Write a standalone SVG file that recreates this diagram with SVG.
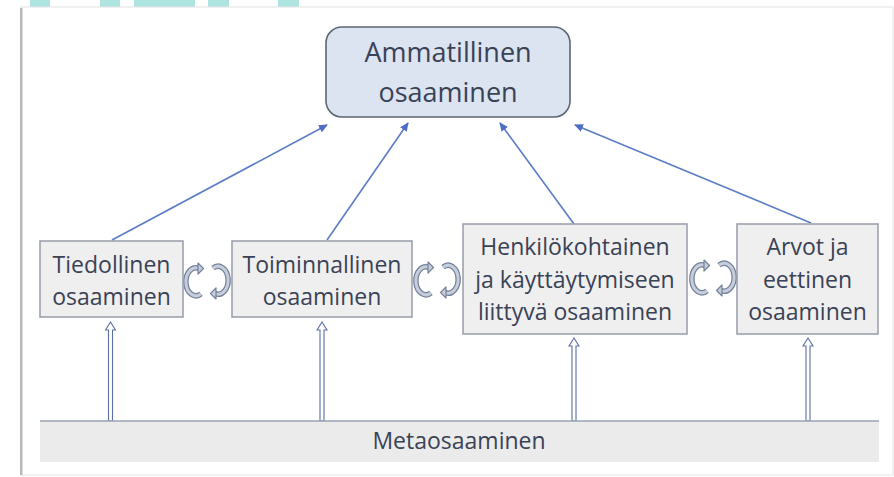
<svg xmlns="http://www.w3.org/2000/svg" width="894" height="477" viewBox="0 0 894 477">
<style>
.t{font-family:"Open Sans","Noto Sans","Liberation Sans",sans-serif;fill:#3a4256;text-anchor:middle}
.box{fill:#efefef;stroke:#969ca8;stroke-width:1.5}
.conn{stroke:#5b7cc6;stroke-width:1.6;fill:none}
.up{fill:#ffffff;stroke:#5c6fa6;stroke-width:1.1}
.cyc-o{fill:none;stroke:#75809a;stroke-width:5.5}
.cyc-i{fill:none;stroke:#c6cddb;stroke-width:3}
.cyc-h{fill:#c6cddb;stroke:#75809a;stroke-width:1.2;stroke-linejoin:round}
</style>
<defs>
<marker id="ah" markerWidth="9" markerHeight="8" refX="8" refY="4" orient="auto" markerUnits="userSpaceOnUse">
<path d="M0,0 L9,4 L0,8 Z" fill="#4d6ec4"/>
</marker>
<g id="cyc">
<path class="cyc-o" d="M -8 -12.5 A 10 14 0 1 0 -6 12.8"/>
<path class="cyc-i" d="M -8 -12.5 A 10 14 0 1 0 -6 12.8"/>
<path class="cyc-h" d="M -9 -18 L -3.5 -12.5 L -9 -7 Z"/>
<path class="cyc-o" d="M 8 12.5 A 10 14 0 1 0 6 -12.8"/>
<path class="cyc-i" d="M 8 12.5 A 10 14 0 1 0 6 -12.8"/>
<path class="cyc-h" d="M 9 18 L 3.5 12.5 L 9 7 Z"/>
</g>
</defs>
<rect width="894" height="477" fill="#ffffff"/>
<g id="deco">
<rect x="30" y="0" width="20" height="8" fill="#aee5e0"/>
<rect x="100" y="0" width="20" height="8" fill="#aee5e0"/>
<rect x="134" y="0" width="61" height="8" fill="#aee5e0"/>
<rect x="208" y="0" width="21" height="8" fill="#aee5e0"/>
<rect x="278" y="0" width="21" height="8" fill="#aee5e0"/>
<rect x="21" y="7" width="872" height="468" fill="#ffffff" stroke="#e2e2e2" stroke-width="1"/>
<rect x="20" y="8" width="2.5" height="467" fill="#b9b9b9"/>
</g>
<g id="connectors">
<line class="conn" x1="112" y1="240" x2="327" y2="125" marker-end="url(#ah)"/>
<line class="conn" x1="327" y1="240" x2="408" y2="123" marker-end="url(#ah)"/>
<line class="conn" x1="574" y1="224" x2="500" y2="123" marker-end="url(#ah)"/>
<line class="conn" x1="811" y1="223" x2="575" y2="125" marker-end="url(#ah)"/>
<path class="up" d="M108.5,421 V330 H105.5 L110.5,322 L115.5,330 H112.5 V421 Z"/>
<path class="up" d="M320,421 V330 H317 L322,322 L327,330 H324 V421 Z"/>
<path class="up" d="M572,421 V346 H569 L574,338 L579,346 H576 V421 Z"/>
<path class="up" d="M806,421 V346 H803 L808,338 L813,346 H810 V421 Z"/>
<use href="#cyc" x="207" y="281"/>
<use href="#cyc" x="437" y="280"/>
<use href="#cyc" x="713" y="278"/>
</g>
<g id="n-ammatillinen">
<rect x="326" y="27" width="244" height="90" rx="16" fill="#dce3f1" stroke="#5d6575" stroke-width="1.6"/>
<text class="t" x="448" y="62" font-size="27">Ammatillinen</text>
<text class="t" x="448" y="102" font-size="27">osaaminen</text>
</g>
<g id="n-tiedollinen">
<rect class="box" x="40" y="241" width="143" height="76"/>
<text class="t" x="111.5" y="273" font-size="23">Tiedollinen</text>
<text class="t" x="111.5" y="305" font-size="23">osaaminen</text>
</g>
<g id="n-toiminnallinen">
<rect class="box" x="232" y="241" width="180" height="76"/>
<text class="t" x="322" y="273" font-size="23">Toiminnallinen</text>
<text class="t" x="322" y="305" font-size="23">osaaminen</text>
</g>
<g id="n-henkilokohtainen">
<rect class="box" x="463" y="224" width="224" height="110"/>
<text class="t" x="575" y="255" font-size="23">Henkilökohtainen</text>
<text class="t" x="575" y="288" font-size="23">ja käyttäytymiseen</text>
<text class="t" x="575" y="320" font-size="23">liittyvä osaaminen</text>
</g>
<g id="n-arvot">
<rect class="box" x="737" y="224" width="141" height="110"/>
<text class="t" x="807.5" y="255" font-size="23">Arvot ja</text>
<text class="t" x="807.5" y="288" font-size="23">eettinen</text>
<text class="t" x="807.5" y="320" font-size="23">osaaminen</text>
</g>
<g id="n-metaosaaminen">
<rect x="40" y="421" width="839" height="41" fill="#ebebeb"/>
<line x1="40" y1="421" x2="879" y2="421" stroke="#9aa2b3" stroke-width="1.5"/>
<text class="t" x="459" y="449" font-size="23">Metaosaaminen</text>
</g>
</svg>
